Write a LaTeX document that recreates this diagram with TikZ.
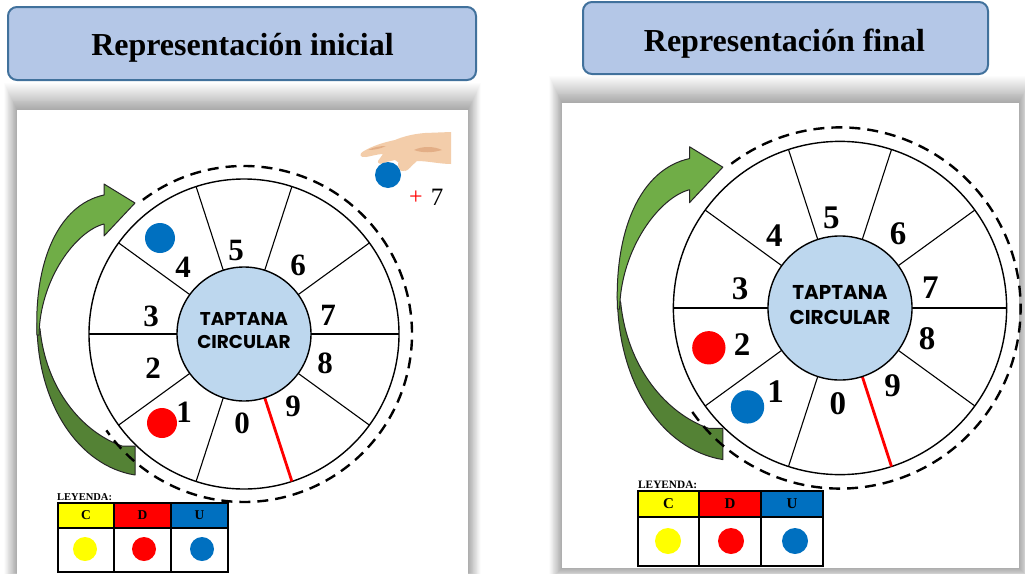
\documentclass[tikz,border=0pt]{standalone}
\usepackage{fontspec}
\setmainfont{Liberation Serif}
\newfontfamily\tapfont{Poppins}
\definecolor{titlefill}{HTML}{B4C7E7}
\definecolor{titledraw}{HTML}{41719C}
\definecolor{hubfill}{HTML}{BDD7EE}
\definecolor{glight}{HTML}{70AD47}
\definecolor{gdark}{HTML}{548235}
\definecolor{ublue}{HTML}{0070C0}
\definecolor{dred}{HTML}{FF0000}
\definecolor{cyellow}{HTML}{FFFF00}
\definecolor{skin}{HTML}{F3CDAA}
\definecolor{skindark}{HTML}{E3AE86}
\tikzset{
  titlebox/.style={draw=titledraw, fill=titlefill, line width=2pt, rounded corners=9pt, inner sep=0pt},
  titletext/.style={font=\bfseries\fontsize{32}{32}\selectfont, inner sep=0pt, anchor=base},
  wheelline/.style={line width=1.4pt},
  spoke/.style={line width=1.1pt},
  redspoke/.style={line width=2.8pt, draw=dred},
  dashring/.style={line width=2.4pt, dash pattern=on 11pt off 7pt},
  arrowlight/.style={fill=glight, draw=black!85, line width=1pt, line join=round},
  arrowdark/.style={fill=gdark, draw=black!85, line width=1pt, line join=round},
  digit/.style={font=\bfseries\fontsize{#1}{#1}\selectfont, inner sep=0pt},
  hubtext/.style 2 args={font=\tapfont\bfseries\fontsize{#1}{#2}\selectfont, align=center, inner sep=0pt},
  legline/.style={line width=1.4pt},
  legtitle/.style={font=\bfseries\fontsize{#1}{#1}\selectfont, inner sep=0pt, anchor=base west},
  legletter/.style={font=\bfseries\fontsize{#1}{#1}\selectfont, inner sep=0pt},
}
\newcommand\panelshadow[4]{%
  \foreach \i in {1,...,28}{%
    \fill[black, opacity=0.013] ({#1-0.45*\i},{#2-0.95*\i}) rectangle ({#3+0.45*\i},{#4+0.45*\i});
  }%
  \fill[white] (#1,#2) rectangle (#3,#4);
}
\newcommand\taptana[7]{% #1 prefix, #2 centre, #3 scale, #4 digit size, #5 hub size, #6 hub skip, #7 extra
\begin{scope}[shift={#2}, yscale=-1, scale=#3]
  \draw[arrowdark] (-207,11) .. controls (-207,-70) and (-165,-132) .. (-109,-141)
      -- (-109,-112) -- (-122,-112) .. controls (-162,-98) and (-198,-55) .. (-204,5) -- cycle;
  \draw[arrowlight] (-140,139) -- (-140,150) -- (-109,131) -- (-140,98) -- (-140,110)
      .. controls (-168,103) and (-204,55) .. (-205,-1) -- (-207,-1)
      .. controls (-210,72) and (-186,129) .. (-140,139) -- cycle;
  \draw[wheelline] (0,0) circle[radius=155];
  \foreach \a in {0,36,...,324} \draw[spoke] (\a:67) -- (\a:155);
  \draw[redspoke] (288:67) -- (288:155);
  \filldraw[wheelline, fill=hubfill] (0,0) circle[radius=67];
  \draw[dashring] (127:168) arc[start angle=127, end angle=-145, radius=168];
  \node[hubtext={#5}{#6}] (#1hub) at (0,3) {TAPTANA\\CIRCULAR};
  \node[digit=#4] (#1d0) at (-2,-89) {0};
  \node[digit=#4] (#1d1) at (-60,-78) {1};
  \node[digit=#4] (#1d2) at (-91,-34) {2};
  \node[digit=#4] (#1d3) at (-93,18) {3};
  \node[digit=#4] (#1d4) at (-61,67) {4};
  \node[digit=#4] (#1d5) at (-8,84) {5};
  \node[digit=#4] (#1d6) at (54,69) {6};
  \node[digit=#4] (#1d7) at (84,19) {7};
  \node[digit=#4] (#1d8) at (81,-29) {8};
  \node[digit=#4] (#1d9) at (49,-72) {9};
  #7
\end{scope}}
\begin{document}
\begin{tikzpicture}[x=1pt, y=-1pt]
\useasboundingbox (0,0) rectangle (1025,573);
\fill[white] (0,0) rectangle (1025,573);
% titles
\node[titlebox, minimum width=468pt, minimum height=73pt] (titleL) at (242,43.5) {};
\node[titletext] (titleLtxt) at (242.5,55) {Representación inicial};
\node[titlebox, minimum width=405pt, minimum height=72pt] (titleR) at (785.5,38) {};
\node[titletext] (titleRtxt) at (784.5,51) {Representación final};
% panels
\panelshadow{17}{110}{468}{585}
\panelshadow{562}{103}{1019}{568}
% left wheel
\taptana{L}{(244,334)}{1}{31}{18.5}{23}{%
  \fill[ublue] (-84,96) circle[radius=15];
  \fill[dred] (-82,-89) circle[radius=15];
}
% right wheel
\taptana{R}{(840,308)}{1.075}{33}{20}{25}{%
  \fill[dred] (-122,-37) circle[radius=15.5];
  \fill[ublue] (-86,-92) circle[radius=15.5];
}
% hand with counter
\fill[skin] (451,132) -- (425,133) .. controls (412,134) and (402,137) .. (395,140)
  .. controls (385,142) and (372,146) .. (364,151) .. controls (358,154) and (360,158) .. (366,157)
  .. controls (372,156) and (378,154) .. (383,154)
  -- (378,161) .. controls (377,164) and (382,165) .. (386,162) -- (395,160)
  .. controls (400,162) and (402,170) .. (405,171) .. controls (408,171) and (412,165) .. (417,161)
  .. controls (428,161) and (440,164) .. (451,164) -- cycle;
\fill[skindark] (414,150) .. controls (422,146) and (434,146) .. (442,150) .. controls (432,153) and (422,153) .. (414,150) -- cycle;
\fill[skindark] (368,150) .. controls (374,147) and (380,146) .. (386,146) .. controls (380,149) and (374,150) .. (368,150) -- cycle;
\fill[ublue] (388,175) circle[radius=13];
\fill[skin] (398,163) .. controls (403,163) and (406,168) .. (404,171) .. controls (400,172) and (398,168) .. (398,163) -- cycle;
\node[text=dred, font=\fontsize{24}{24}\selectfont, inner sep=0pt] (plusL) at (416,198) {+};
\node[font=\fontsize{25}{25}\selectfont, inner sep=0pt] (sevenL) at (437,197) {7};
% left legend
\node[legtitle=10.5] (legL) at (57,500) {LEYENDA:};
\fill[cyellow] (58,503) rectangle (114,528);
\fill[dred] (114,503) rectangle (171,528);
\fill[ublue] (171,503) rectangle (228,528);
\draw[legline] (58,503) rectangle (228,572);
\draw[legline] (58,528) -- (228,528);
\draw[legline] (114,503) -- (114,572);
\draw[legline] (171,503) -- (171,572);
\node[legletter=13.5] (legLC) at (86,515.5) {C};
\node[legletter=13.5] (legLD) at (142.5,515.5) {D};
\node[legletter=13.5] (legLU) at (199.5,515.5) {U};
\fill[cyellow] (85,549) circle[radius=12];
\fill[dred] (144,549) circle[radius=12];
\fill[ublue] (202,549) circle[radius=12];
% right legend
\node[legtitle=11.3] (legR) at (638,488) {LEYENDA:};
\fill[cyellow] (638,491) rectangle (699,517);
\fill[dred] (699,491) rectangle (761,517);
\fill[ublue] (761,491) rectangle (823,517);
\draw[legline] (638,491) rectangle (823,566);
\draw[legline] (638,517) -- (823,517);
\draw[legline] (699,491) -- (699,566);
\draw[legline] (761,491) -- (761,566);
\node[legletter=15] (legRC) at (668.5,504) {C};
\node[legletter=15] (legRD) at (730,504) {D};
\node[legletter=15] (legRU) at (792,504) {U};
\fill[cyellow] (668,541) circle[radius=13];
\fill[dred] (731,541) circle[radius=13];
\fill[ublue] (795,541) circle[radius=13];
\end{tikzpicture}
\end{document}
